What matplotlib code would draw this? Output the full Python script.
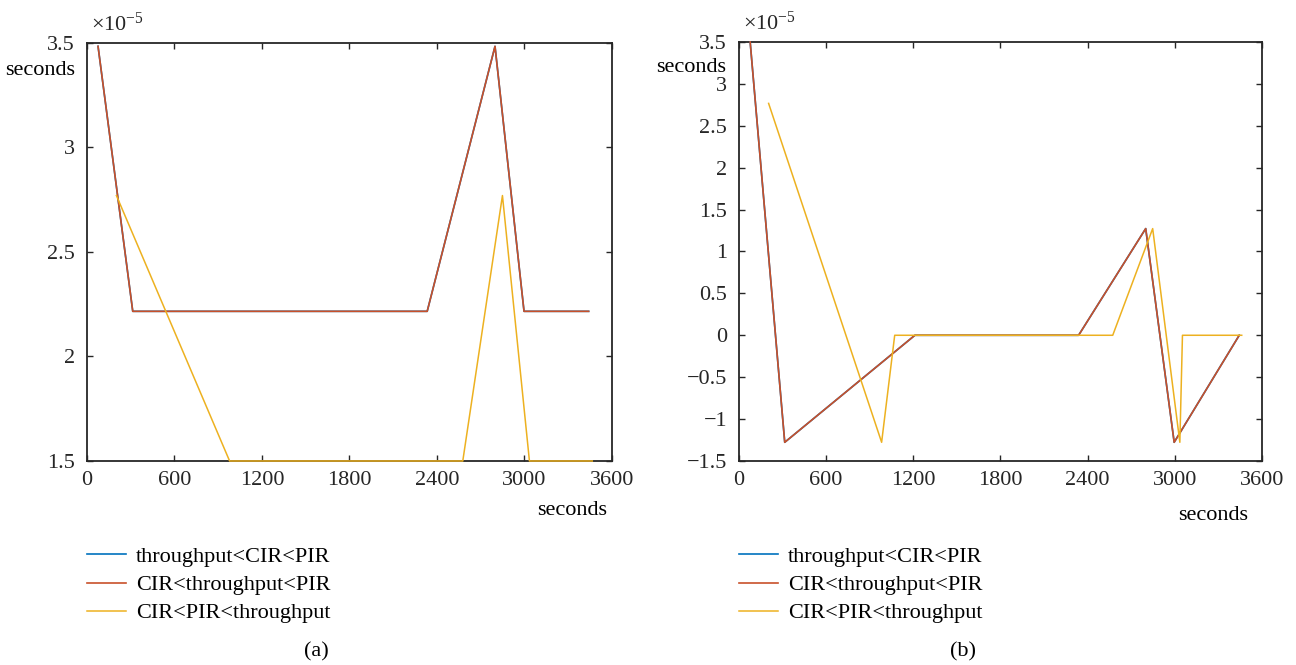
import numpy as np
import matplotlib
matplotlib.use("Agg")
import matplotlib.pyplot as plt

plt.rcParams['font.family'] = ['Liberation Serif', 'DejaVu Serif']
plt.rcParams['mathtext.default'] = 'regular'
plt.rcParams['font.size'] = 16

# delay per policy case, (a) and (b) panels, values in units of 1e-5 s
t_a_red = [76, 314, 2333, 2798, 2997, 3440]
d_a_red = [3.484, 2.216, 2.216, 3.484, 2.216, 2.216]
t_a_yel = [202, 978, 2577, 2849, 3034, 3465]
d_a_yel = [2.77, 1.5, 1.5, 2.77, 1.5, 1.5]

t_b_red = [77, 315, 1211, 2338, 2800, 2996, 3444]
d_b_red = [3.5, -1.277, 0.0, 0.0, 1.273, -1.277, 0.0]
t_b_yel = [204, 982, 1072, 2573, 2848, 3035, 3053, 3461]
d_b_yel = [2.767, -1.277, 0.0, 0.0, 1.273, -1.277, 0.0, 0.0]

labels = ["throughput<CIR<PIR", "CIR<throughput<PIR", "CIR<PIR<throughput"]
colors = ["#0072BD", "#C8502A", "#EDB120"]
xticks = [0, 600, 1200, 1800, 2400, 3000, 3600]

fig = plt.figure(figsize=(12.96, 6.65), dpi=100)
ax1 = fig.add_axes([0.0671, 0.3068, 0.4051, 0.6286])
ax2 = fig.add_axes([0.5702, 0.3068, 0.4035, 0.6301])


def draw(ax, t_red, d_red, t_yel, d_yel, ylim, yticks, ylab_pos, xlab_pos, tag, tag_x):
    scale = 1e-5
    # blue case coincides with the red one, so it ends up hidden beneath it
    l1, = ax.plot(t_red, np.array(d_red) * scale, color=colors[0], lw=1.2,
                  clip_on=False, zorder=3)
    l2, = ax.plot(t_red, np.array(d_red) * scale, color=colors[1], lw=1.2,
                  clip_on=False, zorder=3)
    l3, = ax.plot(t_yel, np.array(d_yel) * scale, color=colors[2], lw=1.1,
                  clip_on=False, zorder=3)
    ax.set_xlim(0, 3600)
    ax.set_ylim(ylim[0] * scale, ylim[1] * scale)
    ax.set_xticks(xticks)
    ax.set_yticks(np.array(yticks) * scale)
    ax.set_yticklabels([("%g" % v).replace("-", "\u2212") for v in yticks])
    ax.tick_params(direction='in', length=4, width=1.0, top=True, right=True,
                   labelsize=16, colors='#262626')
    ax.tick_params(axis='x', pad=7)
    ax.tick_params(axis='y', pad=8.5)
    for s in ax.spines.values():
        s.set_linewidth(1.3)
        s.set_color('#262626')
        s.set_zorder(2)
    ax.text(0.008, 1.016, "×10$^{-5}$", transform=ax.transAxes, ha='left', va='bottom',
            fontsize=16, color='#262626')
    ax.text(ylab_pos[0], ylab_pos[1], "seconds", transform=ax.transAxes,
            ha='right', va='center', fontsize=16)
    ax.text(xlab_pos[0], xlab_pos[1], "seconds", transform=ax.transAxes,
            ha='center', va='center', fontsize=16)
    fig.legend([l1, l2, l3], labels, loc='upper left',
               bbox_to_anchor=(ax.get_position().x0, 0.178), bbox_transform=fig.transFigure,
               frameon=False, borderpad=0, borderaxespad=0, handlelength=1.75,
               handletextpad=0.45, labelspacing=0.34, fontsize=16)
    fig.text(tag_x, 0.0195, tag, ha='center', va='center', fontsize=16)


draw(ax1, t_a_red, d_a_red, t_a_yel, d_a_yel, (1.5, 3.5), [1.5, 2, 2.5, 3, 3.5],
     (-0.023, 0.935), (0.924, -0.118), "(a)", 316 / 1296)
draw(ax2, t_b_red, d_b_red, t_b_yel, d_b_yel, (-1.5, 3.5),
     [-1.5, -1, -0.5, 0, 0.5, 1, 1.5, 2, 2.5, 3, 3.5],
     (-0.025, 0.94), (0.906, -0.13), "(b)", 963 / 1296)

fig.savefig("out.png", dpi=100)
